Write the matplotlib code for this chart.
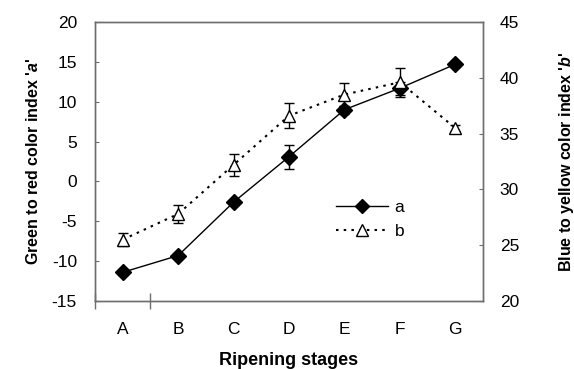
import matplotlib
matplotlib.use('Agg')
import matplotlib.pyplot as plt
from matplotlib.lines import Line2D
import numpy as np

plt.rcParams['font.family'] = ['Liberation Sans', 'DejaVu Sans']
plt.rcParams['axes.unicode_minus'] = False
plt.rcParams['mathtext.fontset'] = 'custom'
plt.rcParams['mathtext.rm'] = 'Liberation Sans'
plt.rcParams['mathtext.it'] = 'Liberation Sans:italic'
plt.rcParams['mathtext.bf'] = 'Liberation Sans:bold'
plt.rcParams['mathtext.bfit'] = 'Liberation Sans:italic:bold'

# ripening stages
stages = ['A', 'B', 'C', 'D', 'E', 'F', 'G']
# green to red index a (left axis)
a_vals = [-11.4, -9.3, -2.6, 3.1, 9.0, 11.7, 14.7]
a_err = [0.3, 0.3, 0.4, 1.5, 0.5, 0.8, 0.3]
# blue to yellow index b (right axis)
b_vals = [25.5, 27.8, 32.2, 36.6, 38.5, 39.6, 35.5]
b_err = [0.6, 0.8, 1.0, 1.1, 1.0, 1.3, 0.3]

x = np.arange(len(stages))
gray = '#6e6e6e'
dots = (0, (1.2, 2.5))

fig = plt.figure(figsize=(5.74, 3.69), dpi=100)
ax = fig.add_axes([95/574, 68/369, 388/574, 279/369])
ax2 = ax.twinx()

ax.errorbar(x, a_vals, yerr=a_err, color='black', lw=1, marker='D', ms=8.5,
            mfc='black', mec='black', capsize=3.5, elinewidth=1, capthick=1)
lb = ax2.errorbar(x, b_vals, yerr=b_err, color='black', lw=1.5, ls=dots,
                  marker='^', ms=9, mfc='white', mec='black', mew=1,
                  capsize=3.5, elinewidth=1, capthick=1)
lb[-1][0].set_linestyle('-')

ax.set_xlim(-0.5, 6.5)
ax.set_ylim(-15, 20)
ax.set_yticks(np.arange(-15, 21, 5))
ax2.set_ylim(20, 45)
ax2.set_yticks(np.arange(20, 46, 5))

ax.set_xticks(x)
ax.set_xticklabels(stages)
ax.tick_params(axis='x', which='major', length=0, pad=15, labelsize=12.5)
ax.set_xticks([-0.5, 0.5], minor=True)
ax.tick_params(axis='x', which='minor', length=11, direction='inout', color=gray, width=1)
ax.tick_params(axis='y', length=3, direction='in', color=gray, pad=13, labelsize=12.5)
ax2.tick_params(axis='y', length=3, direction='in', color=gray, pad=12, labelsize=12.5)

for a_ in (ax, ax2):
    for s in a_.spines.values():
        s.set_color(gray)
        s.set_linewidth(1)

ax.set_ylabel(r"Green to red color index '$\mathbfit{a}$'", fontsize=11.5, fontweight='bold', labelpad=8)
ax2.set_ylabel(r"Blue to yellow color index '$\mathbfit{b}$'", fontsize=11.5, fontweight='bold', labelpad=27)
ax.set_xlabel('Ripening stages', fontsize=13, fontweight='bold', labelpad=11)

handles = [Line2D([], [], color='black', lw=1, marker='D', ms=7.5, mfc='black'),
           Line2D([], [], color='black', lw=1.5, ls=dots, marker='^', ms=8.5, mfc='white', mew=1)]
fig.legend(handles, ['a', 'b'], loc='upper left', bbox_to_anchor=(320/574, 1 - 184/369),
           frameon=False, fontsize=12.5, handlelength=3.0, handletextpad=0.4, labelspacing=0.55)

plt.savefig('out.png', dpi=100)
